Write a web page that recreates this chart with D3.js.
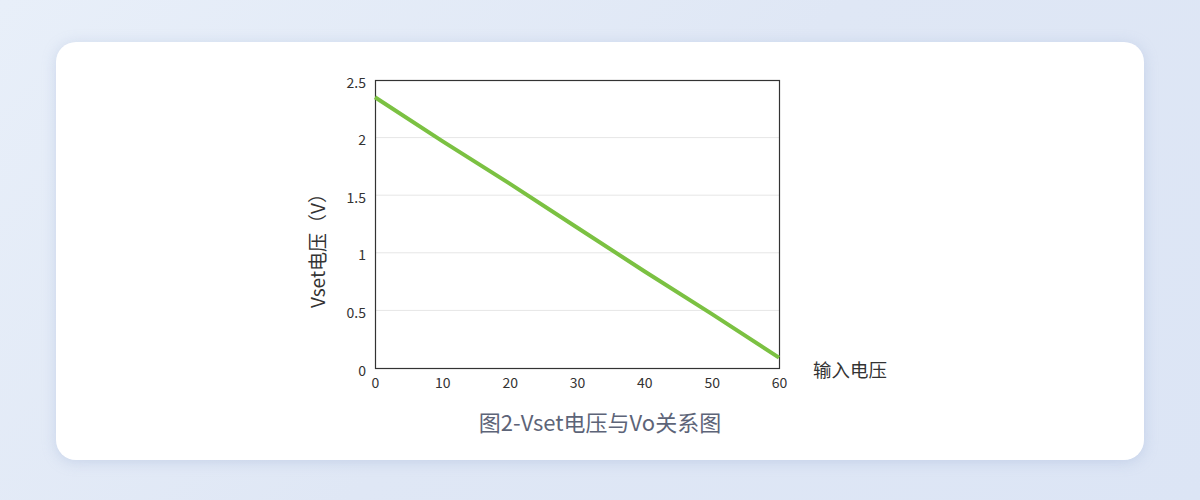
<!DOCTYPE html>
<html><head><meta charset="utf-8">
<script src="https://cdn.jsdelivr.net/npm/d3@7"></script>
<style>
html,body{margin:0;padding:0;}
body{width:1200px;height:500px;background:linear-gradient(135deg,#e8eff9 0%,#dfe7f5 50%,#dce5f5 100%);overflow:hidden;font-family:"Noto Sans CJK SC","Noto Sans",sans-serif;}
.card{position:absolute;left:56px;top:42px;width:1088px;height:418px;background:#fff;border-radius:20px;box-shadow:0 2px 14px rgba(150,170,210,.35);}
svg{position:absolute;left:0;top:0;}
</style></head>
<body>
<div class="card"></div>
<svg id="chart" width="1200" height="500"></svg>
<script>
var xVals=[0,10,20,30,40,50,60];
var yVals=[2.35,1.97,1.60,1.22,0.84,0.47,0.09];
var xTicks=[0,10,20,30,40,50,60];
var yTicks=[0,0.5,1,1.5,2,2.5];
var yLabel='Vset电压（V）', xLabel='输入电压', title='图2-Vset电压与Vo关系图';

var svg=d3.select('#chart');
var x0=375,x1=779,y0=368,y1=80;
var x=d3.scaleLinear().domain([0,60]).range([x0,x1]);
var y=d3.scaleLinear().domain([0,2.5]).range([y0,y1]);
var ff='"Noto Sans CJK SC","Noto Sans",sans-serif';

// grid
svg.append('g').selectAll('line').data(yTicks.filter(function(d){return d>0&&d<2.5;})).enter()
  .append('line').attr('x1',x0).attr('x2',x1).attr('y1',function(d){return y(d);}).attr('y2',function(d){return y(d);})
  .attr('stroke','#e6e6e6').attr('stroke-width',1);

// axes
var gx=svg.append('g').attr('transform','translate(0,'+y0+')')
  .call(d3.axisBottom(x).tickValues(xTicks).tickSize(0).tickPadding(10).tickFormat(d3.format('d')));
var gy=svg.append('g').attr('transform','translate('+x0+',0)')
  .call(d3.axisLeft(y).tickValues(yTicks).tickSize(0).tickPadding(9).tickFormat(function(d){return String(d);}));
[gx,gy].forEach(function(g){
  g.select('.domain').remove();
  g.selectAll('text').attr('fill','#333').attr('font-size','14px').attr('font-family',ff);
});
gy.selectAll('text').attr('dy','0.5em');

// frame
svg.append('rect').attr('x',x0+0.5).attr('y',y1+0.5).attr('width',x1-x0).attr('height',y0-y1)
  .attr('fill','none').attr('stroke','#333').attr('stroke-width',1.2);

// line
svg.append('path').datum(xVals.map(function(v,i){return [v,yVals[i]];}))
  .attr('d',d3.line().x(function(d){return x(d[0]);}).y(function(d){return y(d[1]);}))
  .attr('fill','none').attr('stroke','#7bc142').attr('stroke-width',4).attr('stroke-linecap','butt');

// labels
svg.append('text').attr('transform','translate(325,246) rotate(-90)').attr('text-anchor','middle')
  .attr('fill','#333').attr('font-size','19px').attr('font-family',ff).text(yLabel);
svg.append('text').attr('x',813).attr('y',377).attr('fill','#333').attr('font-size','18.5px').attr('font-family',ff).text(xLabel);
svg.append('text').attr('x',600).attr('y',431).attr('text-anchor','middle').attr('fill','#5d6478')
  .attr('font-size','22px').attr('font-family',ff).text(title);
</script>
</body></html>
